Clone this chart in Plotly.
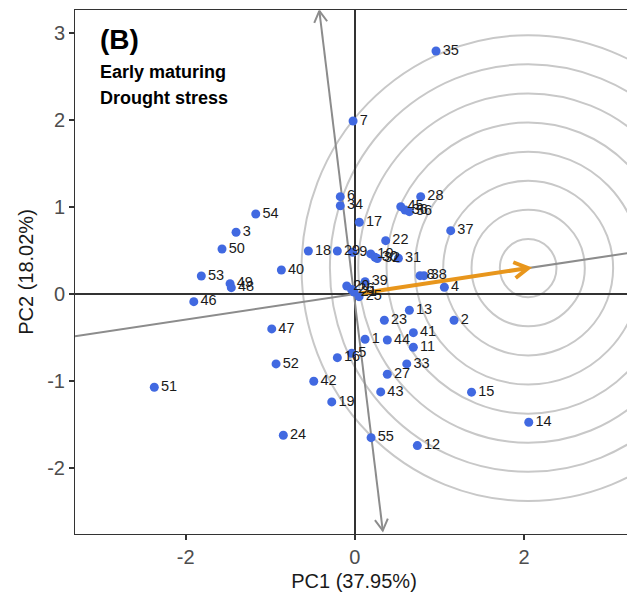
import numpy as np
import plotly.graph_objects as go

# ---- data ----
labels = ["35","7","28","6","34","17","45","36","56","37","22","54","3","50","53","49","48","46","40","18",
          "29","9","10","30","32","31","8","38","4","39","20","26","21","25","13","2","23","41","11","1",
          "44","33","27","43","15","16","5","47","52","42","19","24","55","12","14","51"]
pc1 = [0.960,-0.021,0.779,-0.172,-0.172,0.053,0.543,0.594,0.645,1.134,0.365,-1.172,-1.405,-1.571,-1.816,-1.476,-1.461,-1.905,-0.869,-0.550,
       -0.207,-0.025,0.188,0.239,0.266,0.515,0.771,0.818,1.059,0.121,-0.096,-0.039,-0.009,0.050,0.645,1.173,0.349,0.692,0.692,0.121,
       0.384,0.614,0.384,0.306,1.380,-0.207,-0.037,-0.983,-0.932,-0.486,-0.273,-0.846,0.192,0.739,2.057,-2.372]
pc2 = [2.798,1.993,1.122,1.122,1.018,0.827,1.007,0.969,0.949,0.731,0.616,0.923,0.712,0.520,0.209,0.121,0.075,-0.086,0.278,0.497,
       0.497,0.482,0.463,0.425,0.409,0.413,0.213,0.213,0.079,0.144,0.094,0.054,0.025,-0.029,-0.185,-0.300,-0.300,-0.443,-0.611,-0.519,
       -0.527,-0.803,-0.922,-1.125,-1.128,-0.731,-0.680,-0.400,-0.803,-1.002,-1.240,-1.624,-1.651,-1.743,-1.474,-1.071]

aea_vector = [2.05, 0.30]            # average-environment coordinate (arrow tip / circle centre)
circle_radii = [0.335, 0.67, 1.005, 1.34, 1.675, 2.01, 2.345, 2.68]
ordinate_x = [-0.42, 0.33]           # ends of the perpendicular axis
ordinate_y = [3.26, -2.72]

x_range = [-3.31, 3.29]
y_range = [-2.76, 3.27]
x_ticks = [-2, 0, 2]
x_ticktext = ["-2", "0", "2"]
y_ticks = [-2, -1, 0, 1, 2, 3]
y_ticktext = ["-2", "-1", "0", "1", "2", "3"]

# ---- layout geometry (page body has an 8px default margin) ----
W, H = 627, 593
ML, MR, MT, MB = 67, 2, 2, 67
pw, ph = W - ML - MR, H - MT - MB
kx = pw / (x_range[1] - x_range[0])
ky = ph / (y_range[1] - y_range[0])

FONT = "Liberation Sans, Arial"

def chevron(tip, tail, length=13, angle=30):
    # open arrowhead wings computed in pixel space, returned in data coords
    dx = (tip[0] - tail[0]) * kx
    dy = (tip[1] - tail[1]) * ky
    n = np.hypot(dx, dy)
    ux, uy = dx / n, dy / n
    xs, ys = [], []
    for s in (1, -1):
        a = np.radians(angle) * s
        rx = ux * np.cos(a) - uy * np.sin(a)
        ry = ux * np.sin(a) + uy * np.cos(a)
        xs.append(tip[0] - length * rx / kx)
        ys.append(tip[1] - length * ry / ky)
    return [xs[0], tip[0], xs[1]], [ys[0], tip[1], ys[1]]

fig = go.Figure()

# concentric circles
for r in circle_radii:
    fig.add_shape(type="circle", xref="x", yref="y",
                  x0=aea_vector[0] - r, x1=aea_vector[0] + r,
                  y0=aea_vector[1] - r, y1=aea_vector[1] + r,
                  line=dict(color="#C8C8C8", width=2), layer="below")

# AEA abscissa (gray line through origin)
slope = aea_vector[1] / aea_vector[0]
fig.add_trace(go.Scatter(x=[x_range[0], x_range[1]], y=[slope * x_range[0], slope * x_range[1]],
                         mode="lines", line=dict(color="#8C8C8C", width=2), hoverinfo="skip"))

# AEA ordinate with arrowheads at both ends
fig.add_trace(go.Scatter(x=ordinate_x, y=ordinate_y, mode="lines",
                         line=dict(color="#8C8C8C", width=2), hoverinfo="skip"))
for i, j in ((0, 1), (1, 0)):
    cx, cy = chevron((ordinate_x[i], ordinate_y[i]), (ordinate_x[j], ordinate_y[j]), length=13)
    fig.add_trace(go.Scatter(x=cx, y=cy, mode="lines",
                             line=dict(color="#8C8C8C", width=2), hoverinfo="skip"))

# orange arrow from origin
fig.add_trace(go.Scatter(x=[0, aea_vector[0]], y=[0, aea_vector[1]], mode="lines",
                         line=dict(color="#E8961C", width=4), hoverinfo="skip"))
cx, cy = chevron((aea_vector[0], aea_vector[1]), (0, 0), length=16)
fig.add_trace(go.Scatter(x=cx, y=cy, mode="lines",
                         line=dict(color="#E8961C", width=4), hoverinfo="skip"))

# genotype points
fig.add_trace(go.Scatter(x=pc1, y=pc2, mode="markers+text", text=labels,
                         textposition="middle right",
                         textfont=dict(family=FONT, size=14.5, color="#1a1a1a"),
                         marker=dict(color="#4169E1", size=9), cliponaxis=False))

fig.add_annotation(x=0.042, y=0.944, xref="paper", yref="paper", text="<b>(B)</b>", showarrow=False,
                   xanchor="left", yanchor="middle",
                   font=dict(family=FONT, size=28, color="#000"))
fig.add_annotation(x=0.042, y=0.881, xref="paper", yref="paper", text="<b>Early maturing</b>", showarrow=False,
                   xanchor="left", yanchor="middle",
                   font=dict(family=FONT, size=18, color="#000"))
fig.add_annotation(x=0.042, y=0.833, xref="paper", yref="paper", text="<b>Drought stress</b>", showarrow=False,
                   xanchor="left", yanchor="middle",
                   font=dict(family=FONT, size=18, color="#000"))

axis_common = dict(showgrid=False, showline=True, mirror=True, linecolor="#333333", linewidth=1,
                   ticks="outside", ticklen=5, tickcolor="#333333", tickwidth=1.5,
                   zeroline=True, zerolinecolor="#333333", zerolinewidth=2,
                   tickfont=dict(family=FONT, size=20, color="#4D4D4D"))
fig.update_xaxes(range=x_range, tickvals=x_ticks, ticktext=x_ticktext,
                 title=dict(text="PC1 (37.95%)", standoff=6,
                            font=dict(family=FONT, size=20, color="#1a1a1a")),
                 **axis_common)
fig.update_yaxes(range=y_range, tickvals=y_ticks, ticktext=y_ticktext,
                 title=dict(text="PC2 (18.02%)", standoff=8,
                            font=dict(family=FONT, size=20, color="#1a1a1a")),
                 **axis_common)

fig.update_layout(width=W, height=H, margin=dict(l=ML, r=MR, t=MT, b=MB, autoexpand=False),
                  plot_bgcolor="white", paper_bgcolor="white", showlegend=False)

fig.write_html("out.html")
